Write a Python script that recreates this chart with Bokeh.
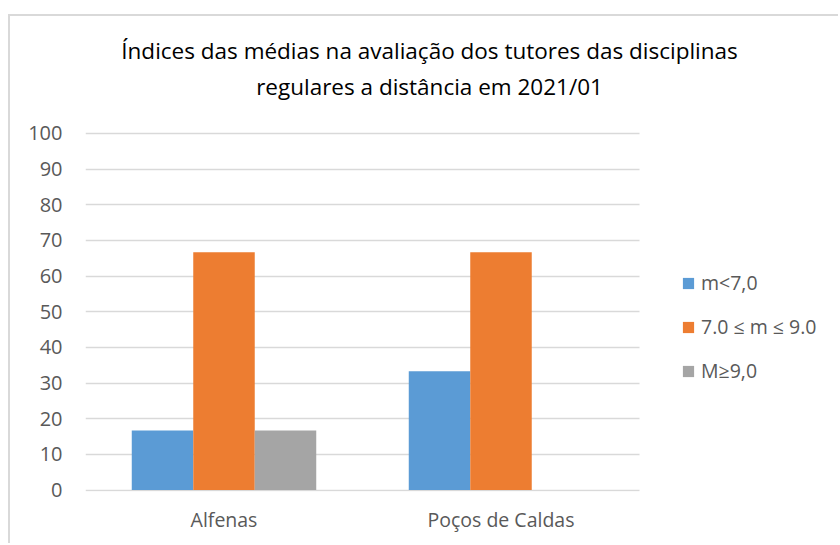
from bokeh.plotting import figure
from bokeh.models import Range1d, FixedTicker, Label, Legend, LegendItem, ColumnDataSource
from bokeh.embed import file_html
from bokeh.resources import INLINE

# ---- data ----
categories = ["Alfenas", "Poços de Caldas"]
series_names = ["m<7,0", "7.0 \u2264 m \u2264 9.0", "M\u22659,0"]
m_lt7 = [16.67, 33.33]
m_7_9 = [66.67, 66.67]
m_ge9 = [16.67, 0.0]
colors = ["#5B9BD5", "#ED7D31", "#A5A5A5"]
y_ticks = [0, 10, 20, 30, 40, 50, 60, 70, 80, 90, 100]
title_lines = ["Índices das médias na avaliação dos tutores das disciplinas",
               "regulares a distância em 2021/01"]

centers = [i + 0.5 for i in range(len(categories))]
bw = 0.222
offsets = [-bw, 0.0, bw]

W, H = 830, 529
PX_X = 277.0      # pixels per category
PX_Y = 3.567      # pixels per unit
frame_w = W - 75
frame_h = H - 54
y0 = -0.4
p = figure(x_range=Range1d(0, frame_w / PX_X),
           y_range=Range1d(y0, y0 + frame_h / PX_Y),
           width=W, height=H, output_backend="svg", toolbar_location=None,
           min_border_left=75, min_border_right=0, min_border_top=0, min_border_bottom=54)
p.styles = {"border-top": "2px solid #d9d9d9", "border-left": "2px solid #d9d9d9",
            "margin-top": "14px", "margin-left": "8px"}
p.title.visible = False
p.outline_line_color = None
p.background_fill_color = "white"
p.border_fill_color = "white"

# horizontal grid lines limited to the plot area (0 .. number of categories)
grid = p.ygrid[0]
if "cross_bounds" in type(grid).properties():
    grid.grid_line_color = "#d9d9d9"
    grid.grid_line_width = 1.5
    grid.cross_bounds = (0, len(categories))
else:
    grid.grid_line_color = None
    p.segment(x0=[0] * len(y_ticks), x1=[len(categories)] * len(y_ticks), y0=y_ticks, y1=y_ticks,
              line_color="#d9d9d9", line_width=1.5)
p.xgrid.grid_line_color = None

renderers = []
for vals, off, color in zip([m_lt7, m_7_9, m_ge9], offsets, colors):
    src = ColumnDataSource(dict(x=[c + off for c in centers], top=vals))
    r = p.vbar(x="x", top="top", width=bw, source=src, fill_color=color, line_color=None)
    renderers.append(r)

lab_font = "Open Sans"
lab_size = "19.5px"

# y axis
p.yaxis.ticker = FixedTicker(ticks=y_ticks)
p.yaxis.bounds = (y_ticks[0], y_ticks[-1])
p.yaxis.axis_line_color = None
p.yaxis.major_tick_line_color = None
p.yaxis.minor_tick_line_color = None
p.yaxis.major_tick_out = 0
p.yaxis.major_label_standoff = 23
p.yaxis.major_label_text_font = lab_font
p.yaxis.major_label_text_font_size = "20px"
p.yaxis.major_label_text_color = "#595959"

# x axis (categories)
p.xaxis.ticker = FixedTicker(ticks=centers)
p.xaxis.major_label_overrides = {c: n for c, n in zip(centers, categories)}
p.xaxis.axis_line_color = None
p.xaxis.major_tick_line_color = None
p.xaxis.minor_tick_line_color = None
p.xaxis.major_tick_out = 0
p.xaxis.major_label_standoff = 14
p.xaxis.major_label_text_font = lab_font
p.xaxis.major_label_text_font_size = lab_size
p.xaxis.major_label_text_color = "#595959"

# title
for txt, yv in zip(title_lines, [123.2, 113.2]):
    p.add_layout(Label(x=1.242, y=yv, text=txt, text_align="center", text_baseline="alphabetic",
                       text_font="Open Sans", text_font_size="22.5px", text_color="#000000"))

legend = Legend(items=[LegendItem(label=n, renderers=[r]) for n, r in zip(series_names, renderers)],
                location=(596, 107), orientation="vertical",
                glyph_width=14, glyph_height=14, label_height=24, spacing=17,
                label_standoff=6, padding=0, margin=0,
                border_line_color=None, background_fill_alpha=0,
                label_text_font=lab_font, label_text_font_size=lab_size,
                label_text_color="#595959")
p.add_layout(legend, "center")

open("out.html", "w").write(file_html(p, INLINE))
